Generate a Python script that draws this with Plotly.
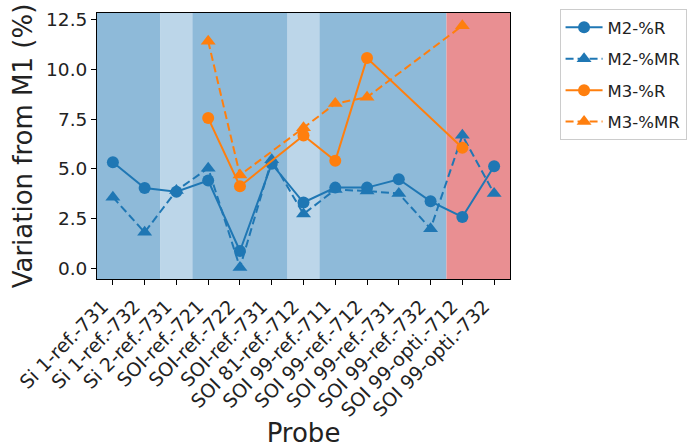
import plotly.graph_objects as go

categories = ["Si 1-ref.-731", "Si 1-ref.-732", "Si 2-ref.-731", "SOI-ref.-721",
              "SOI-ref.-722", "SOI-ref.-731", "SOI 81-ref.-712", "SOI 99-ref.-711",
              "SOI 99-ref.-712", "SOI 99-ref.-731", "SOI 99-ref.-732",
              "SOI 99-opti.-712", "SOI 99-opti.-732"]

m2_r = [5.33, 4.03, 3.84, 4.41, 0.86, 5.25, 3.30, 4.05, 4.05, 4.47, 3.36, 2.57, 5.13]
m2_mr = [3.57, 1.80, 3.90, 5.03, 0.03, 5.45, 2.72, 3.95, 3.88, 3.75, 1.98, 6.68, 3.75]
m3_r = [None, None, None, 7.55, 4.12, None, 6.67, 5.40, 10.57, None, None, 6.06, None]
m3_mr = [None, None, None, 11.42, 4.68, None, 7.06, 8.28, 8.60, None, None, 12.2, None]

# background band per category: 0 = dark blue, 1 = light blue, 2 = red
band_kind = [0, 0, 1, 0, 0, 0, 1, 0, 0, 0, 0, 2, 2]
band_colors = {0: "#8ebad9", 1: "#bcd6e9", 2: "#e98f92"}

BLUE = "#1f77b4"
ORANGE = "#ff7f0e"

x = list(range(len(categories)))

fig = go.Figure()

series = [
    ("M2-%R", m2_r, BLUE, "solid", "circle"),
    ("M2-%MR", m2_mr, BLUE, "8px,4px", "triangle-up"),
    ("M3-%R", m3_r, ORANGE, "solid", "circle"),
    ("M3-%MR", m3_mr, ORANGE, "8px,4px", "triangle-up"),
]
for name, vals, col, dash, sym in series:
    fig.add_trace(go.Scatter(
        x=x, y=vals, name=name, legendgroup=name, mode="lines+markers",
        connectgaps=True,
        line=dict(color=col, width=2, dash=dash),
        marker=dict(color=col, size=12 if sym == "circle" else 13, symbol=sym),
    ))

# merge contiguous categories of the same kind into one band
shapes = []
start = 0
for i in range(1, len(band_kind) + 1):
    if i == len(band_kind) or band_kind[i] != band_kind[start]:
        shapes.append(dict(type="rect", xref="x", yref="paper",
                           x0=start - 0.5, x1=i - 0.5, y0=0, y1=1,
                           fillcolor=band_colors[band_kind[start]],
                           line=dict(width=0), layer="below"))
        start = i

font_family = "DejaVu Sans"
fig.update_layout(
    width=696, height=448,
    margin=dict(l=97, r=184, t=9, b=169),
    paper_bgcolor="white", plot_bgcolor="white",
    shapes=shapes,
    hovermode=False,
    font=dict(family=font_family, color="#222222", size=18.5),
    showlegend=True,
    legend=dict(x=1.12, y=1.015, xanchor="left", yanchor="top",
                bordercolor="#cccccc", borderwidth=1, bgcolor="white",
                font=dict(size=16.5), itemwidth=37, tracegroupgap=7),
)
fig.update_xaxes(
    range=[-0.5, 12.5], tickmode="array", tickvals=x, ticktext=categories,
    tickangle=-45, ticks="outside", ticklen=5, tickcolor="black",
    showline=True, linecolor="black", linewidth=1, mirror=True,
    showgrid=False, zeroline=False, tickfont=dict(size=19), automargin=False,
    ticklabelshift=-10, ticklabelstandoff=3, ticklabeloverflow="allow",
    title=dict(text="Probe", font=dict(size=26), standoff=6),
)
fig.update_yaxes(
    range=[-0.55, 12.84], tickmode="array", tickvals=[0, 2.5, 5, 7.5, 10, 12.5],
    ticktext=["0.0", "2.5", "5.0", "7.5", "10.0", "12.5"],
    ticks="outside", ticklen=5, tickcolor="black",
    showline=True, linecolor="black", linewidth=1, mirror=True,
    showgrid=False, zeroline=False, tickfont=dict(size=18.5), automargin=False,
    ticklabeloverflow="allow",
    title=dict(text="Variation from M1 (%)", font=dict(size=26), standoff=5),
)

# remove the browser's default 8px page margin so the figure sits at the origin
fig.write_html("out.html",
               config={"displayModeBar": False},
               post_script="document.body.style.margin='0';")
